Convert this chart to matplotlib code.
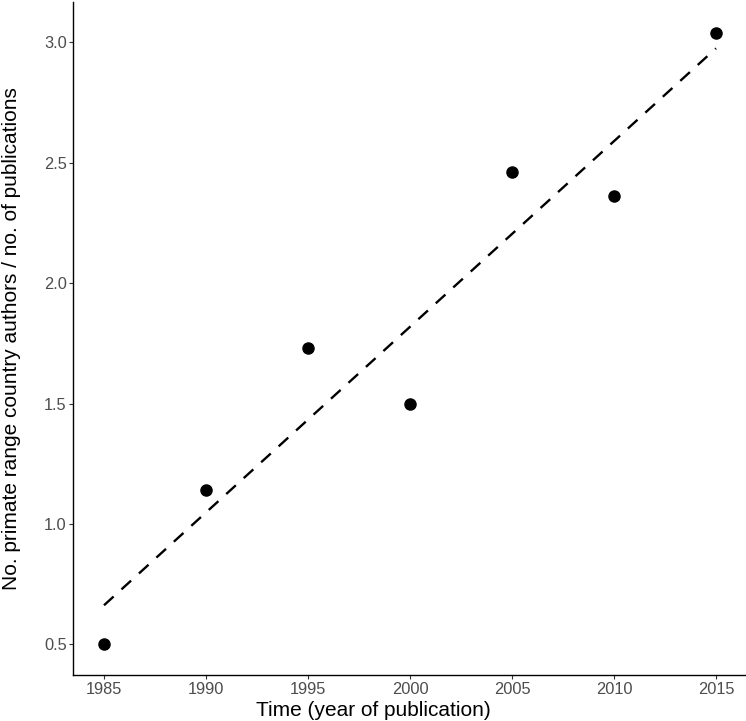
import numpy as np
import matplotlib
matplotlib.use("Agg")
import matplotlib.pyplot as plt

plt.rcParams['font.family'] = ['Liberation Sans', 'DejaVu Sans']

years = [1985, 1990, 1995, 2000, 2005, 2010, 2015]
ratio = [0.50, 1.14, 1.73, 1.50, 2.46, 2.36, 3.04]
xticks = [1985, 1990, 1995, 2000, 2005, 2010, 2015]
yticks = [0.5, 1.0, 1.5, 2.0, 2.5, 3.0]

W, H = 746, 721
fig = plt.figure(figsize=(W/100, H/100), dpi=100)
ax_left, ax_right, ax_top, ax_bottom = 73.4, 746.6, 2.0, 675.0
ax = fig.add_axes([ax_left/W, (H-ax_bottom)/H, (ax_right-ax_left)/W, (ax_bottom-ax_top)/H])

x = np.array(years, dtype=float)
y = np.array(ratio)
slope, intercept = np.polyfit(x, y, 1)
xl = np.array([x.min(), x.max()])
ax.plot(xl, slope*xl + intercept, color='black', lw=1.7, dashes=(5.5, 4.5), zorder=2)
ax.plot(x, y, 'o', color='black', markersize=8, zorder=3)

# ggplot-style 5% expansion
xr = x.max() - x.min()
yr = y.max() - y.min()
ax.set_xlim(x.min() - 0.05*xr, x.max() + 0.05*xr)
ax.set_ylim(y.min() - 0.05*yr, y.max() + 0.05*yr)
ax.set_xticks(xticks)
ax.set_yticks(yticks)
ax.set_yticklabels([f"{v:.1f}" for v in yticks])
ax.tick_params(axis='both', labelsize=11.8, labelcolor='#4d4d4d', color='#333333',
               length=2.75, width=0.8, pad=2)
for s in ['top', 'right']:
    ax.spines[s].set_visible(False)
for s in ['left', 'bottom']:
    ax.spines[s].set_color('black')
    ax.spines[s].set_linewidth(1.0)

ax.set_xlabel('Time (year of publication)', fontsize=15)
ax.xaxis.label.set_va('baseline')
ax.xaxis.set_label_coords(0.5, (H - 716.5)/H, transform=fig.transFigure)
ax.set_ylabel('No. primate range country authors / no. of publications', fontsize=15)
ax.yaxis.set_label_coords((21 - ax_left)/(ax_right - ax_left), 0.5)

fig.savefig('out.png', dpi=100)
